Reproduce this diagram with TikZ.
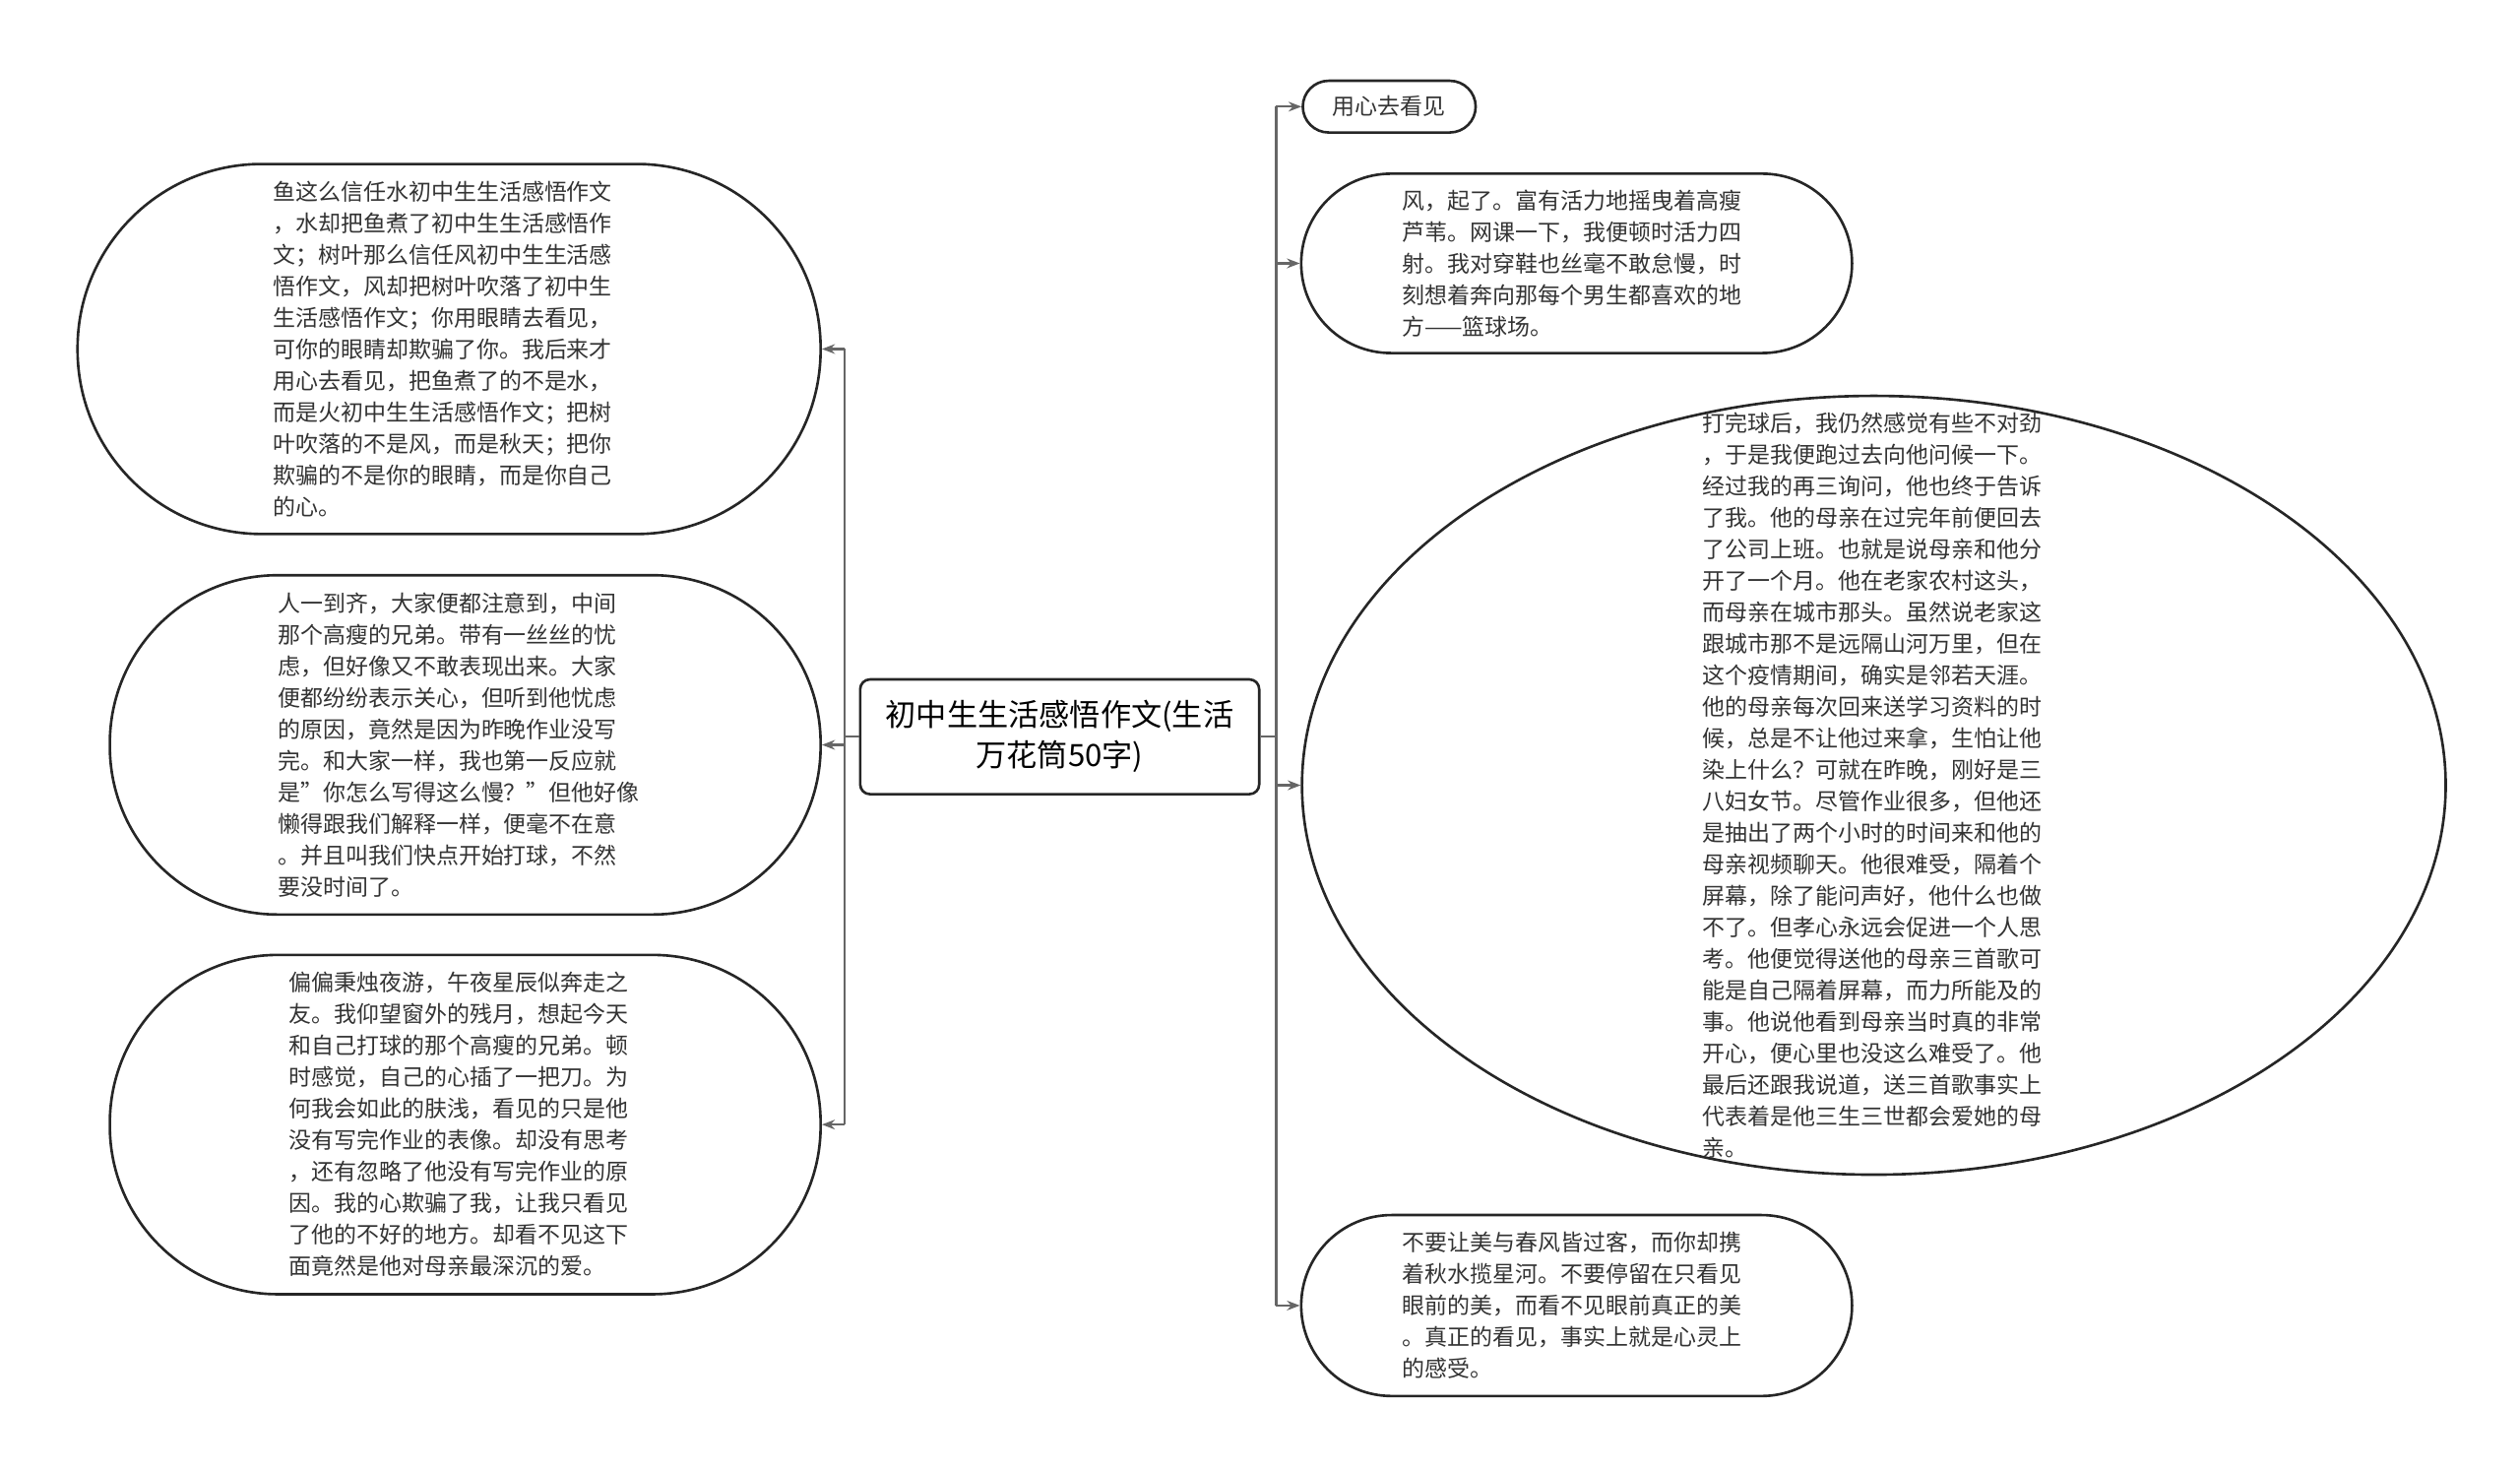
\documentclass[tikz,border=0pt]{standalone}
\usepackage{fontspec}
\setmainfont{Noto Sans CJK SC}
\usetikzlibrary{arrows.meta,shapes.geometric}
\begin{document}
\begin{tikzpicture}[x=0.5pt,y=-0.5pt,
  box/.style={draw=black!85,line width=0.8pt,inner sep=0pt},
  txt/.style={align=left,font=\fontsize{7}{9.75}\selectfont,text=black!80,inner sep=0pt},
  conn/.style={draw=black!60,line width=0.7pt,-{Stealth[length=4pt,width=3pt]}},
  trunk/.style={draw=black!60,line width=0.7pt}]
\useasboundingbox (0,0) rectangle (1560,910);
% center
\node[box,rounded corners=3pt,minimum width=123.5pt,minimum height=35.5pt,fill=white] (c) at (656,456) {};
\node[align=center,font=\fontsize{9.5}{12.5}\selectfont,inner sep=0pt] at (656,456) {初中生生活感悟作文(生活\\万花筒50字)};
% right nodes
\node[box,rounded corners=8pt,minimum width=53.5pt,minimum height=16pt] (r1) at (860,66) {};
\node[txt] at (860,66) {用心去看见};
\node[box,rounded corners=27.75pt,minimum width=170.5pt,minimum height=55.5pt] (r2) at (976,163) {};
\node[txt] at (973,163) {风，起了。富有活力地摇曳着高瘦\\芦苇。网课一下，我便顿时活力四\\射。我对穿鞋也丝毫不敢怠慢，时\\刻想着奔向那每个男生都喜欢的地\\方——篮球场。};
\node[box,ellipse,minimum width=354pt,minimum height=241pt] (r3) at (1160,486) {};
\node[txt] at (1159,486) {打完球后，我仍然感觉有些不对劲\\，于是我便跑过去向他问候一下。\\经过我的再三询问，他也终于告诉\\了我。他的母亲在过完年前便回去\\了公司上班。也就是说母亲和他分\\开了一个月。他在老家农村这头，\\而母亲在城市那头。虽然说老家这\\跟城市那不是远隔山河万里，但在\\这个疫情期间，确实是邻若天涯。\\他的母亲每次回来送学习资料的时\\候，总是不让他过来拿，生怕让他\\染上什么？可就在昨晚，刚好是三\\八妇女节。尽管作业很多，但他还\\是抽出了两个小时的时间来和他的\\母亲视频聊天。他很难受，隔着个\\屏幕，除了能问声好，他什么也做\\不了。但孝心永远会促进一个人思\\考。他便觉得送他的母亲三首歌可\\能是自己隔着屏幕，而力所能及的\\事。他说他看到母亲当时真的非常\\开心，便心里也没这么难受了。他\\最后还跟我说道，送三首歌事实上\\代表着是他三生三世都会爱她的母\\亲。};
\node[box,rounded corners=28pt,minimum width=170.5pt,minimum height=56pt] (r4) at (976,808) {};
\node[txt] at (973,808) {不要让美与春风皆过客，而你却携\\着秋水揽星河。不要停留在只看见\\眼前的美，而看不见眼前真正的美\\。真正的看见，事实上就是心灵上\\的感受。};
% left nodes
\node[box,rounded corners=57pt,minimum width=230pt,minimum height=114.5pt] (l1) at (278,216) {};
\node[txt] at (274,216) {鱼这么信任水初中生生活感悟作文\\，水却把鱼煮了初中生生活感悟作\\文；树叶那么信任风初中生生活感\\悟作文，风却把树叶吹落了初中生\\生活感悟作文；你用眼睛去看见，\\可你的眼睛却欺骗了你。我后来才\\用心去看见，把鱼煮了的不是水，\\而是火初中生生活感悟作文；把树\\叶吹落的不是风，而是秋天；把你\\欺骗的不是你的眼睛，而是你自己\\的心。};
\node[box,rounded corners=52pt,minimum width=220pt,minimum height=105pt] (l2) at (288,461) {};
\node[txt] at (284,461) {人一到齐，大家便都注意到，中间\\那个高瘦的兄弟。带有一丝丝的忧\\虑，但好像又不敢表现出来。大家\\便都纷纷表示关心，但听到他忧虑\\的原因，竟然是因为昨晚作业没写\\完。和大家一样，我也第一反应就\\是"你怎么写得这么慢？"但他好像\\懒得跟我们解释一样，便毫不在意\\。并且叫我们快点开始打球，不然\\要没时间了。};
\node[box,rounded corners=52pt,minimum width=220pt,minimum height=105pt] (l3) at (288,696) {};
\node[txt] at (284,696) {偏偏秉烛夜游，午夜星辰似奔走之\\友。我仰望窗外的残月，想起今天\\和自己打球的那个高瘦的兄弟。顿\\时感觉，自己的心插了一把刀。为\\何我会如此的肤浅，看见的只是他\\没有写完作业的表像。却没有思考\\，还有忽略了他没有写完作业的原\\因。我的心欺骗了我，让我只看见\\了他的不好的地方。却看不见这下\\面竟然是他对母亲最深沉的爱。};
% connectors
\coordinate (tr) at (790,456);
\coordinate (tl) at (523,456);
\draw[trunk] (c.east) -- (tr);
\draw[trunk] (790,66) -- (790,808);
\draw[trunk] (c.west) -- (tl);
\draw[trunk] (523,216) -- (523,696);
\draw[conn] (790,66) -- (r1.west);
\draw[conn] (790,163) -- (r2.west);
\draw[conn] (790,486) -- (r3.west);
\draw[conn] (790,808) -- (r4.west);
\draw[conn] (523,216) -- (l1.east);
\draw[conn] (523,461) -- (l2.east);
\draw[conn] (523,696) -- (l3.east);
\end{tikzpicture}
\end{document}
